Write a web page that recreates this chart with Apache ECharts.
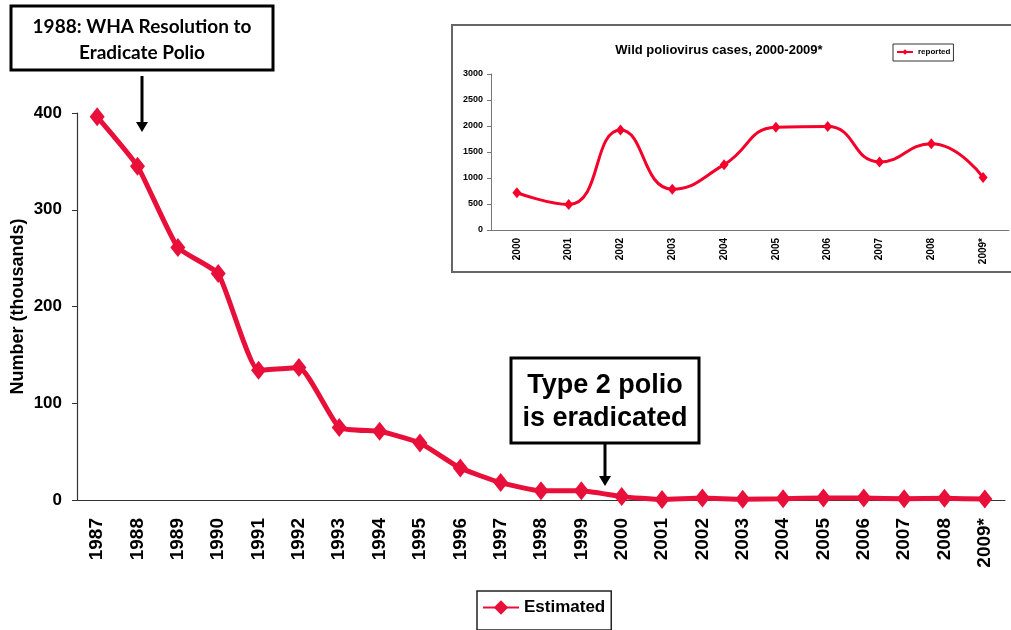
<!DOCTYPE html>
<html>
<head>
<meta charset="utf-8">
<script src="https://cdn.jsdelivr.net/npm/echarts@6/dist/echarts.min.js"></script>
<style>
  html, body { margin: 0; padding: 0; background: #fff; }
  #chart { width: 1011px; height: 630px; }
</style>
</head>
<body>
<div id="chart"></div>
<script>
// main chart: estimated cases (thousands)
const years = ['1987', '1988', '1989', '1990', '1991', '1992', '1993', '1994', '1995', '1996', '1997',
  '1998', '1999', '2000', '2001', '2002', '2003', '2004', '2005', '2006', '2007', '2008', '2009*'];
const estimated = [396, 345, 261, 234, 134, 137, 75, 71, 59, 33, 18,
  9.5, 9.5, 3.5, 0.5, 2, 0.8, 1.3, 2, 2, 1.3, 1.7, 1];
const mainTicks = [0, 400, 100]; // min, max, interval

// inset: wild poliovirus cases
const insetYears = ['2000', '2001', '2002', '2003', '2004', '2005', '2006', '2007', '2008', '2009*'];
const reported = [716, 490, 1922, 785, 1257, 1975, 1990, 1310, 1660, 1012];
const insetTicks = [0, 3000, 500];

const RED = '#e8103a';
const arial = '"Liberation Sans", Arial, sans-serif';

const chart = echarts.init(document.getElementById('chart'), null, { renderer: 'canvas' });

// arrow helper for the annotation boxes
function arrow(x, y1, y2) {
  return [
    { type: 'line', shape: { x1: x, y1: y1, x2: x, y2: y2 - 8 }, style: { stroke: '#000', lineWidth: 3 } },
    { type: 'polygon', shape: { points: [[x - 6, y2 - 10], [x + 6, y2 - 10], [x, y2]] }, style: { fill: '#000' } }
  ];
}

const option = {
  animation: false,
  grid: [
    { left: 77, right: 6, top: 113, bottom: 130, outerBoundsMode: 'none' },
    { left: 491, right: 2, top: 74, bottom: 400, outerBoundsMode: 'none' }
  ],
  legend: [
    {
      data: ['Estimated'],
      left: 477, top: 591,
      orient: 'horizontal',
      borderColor: '#222', borderWidth: 1.5,
      padding: [8, 6, 14, 5],
      itemWidth: 36, itemHeight: 18, itemGap: 4,
      textStyle: { fontFamily: arial, fontWeight: 'bold', fontSize: 17, color: '#000' }
    },
    {
      data: ['reported'],
      left: 893, top: 44,
      borderColor: '#333', borderWidth: 1,
      padding: [4, 3, 5, 3],
      itemWidth: 16, itemHeight: 7, itemGap: 2,
      textStyle: { fontFamily: arial, fontWeight: 'bold', fontSize: 8, color: '#000' }
    }
  ],
  xAxis: [
    {
      type: 'category', gridIndex: 0, data: years, boundaryGap: true,
      axisLine: { lineStyle: { color: '#333', width: 1.2 } },
      axisTick: { length: 6, lineStyle: { color: '#333' } },
      axisLabel: { rotate: 90, margin: 18, interval: 0, color: '#000',
        fontFamily: arial, fontWeight: 'bold', fontSize: 19 }
    },
    {
      type: 'category', gridIndex: 1, data: insetYears, boundaryGap: true,
      axisLine: { lineStyle: { color: '#777', width: 1 } },
      axisTick: { length: 4, lineStyle: { color: '#777' } },
      axisLabel: { rotate: 90, margin: 8, interval: 0, color: '#000',
        fontFamily: arial, fontWeight: 'bold', fontSize: 10 }
    }
  ],
  yAxis: [
    {
      type: 'value', gridIndex: 0, min: mainTicks[0], max: mainTicks[1], interval: mainTicks[2],
      name: 'Number (thousands)', nameLocation: 'middle', nameGap: 50, nameMoveOverlap: false,
      nameTextStyle: { fontFamily: arial, fontWeight: 'bold', fontSize: 18, color: '#000' },
      splitLine: { show: false },
      axisLine: { show: true, lineStyle: { color: '#333', width: 1.2 } },
      axisTick: { show: true, length: 5, lineStyle: { color: '#333' } },
      axisLabel: { margin: 15, color: '#000', fontFamily: arial, fontWeight: 'bold', fontSize: 17 }
    },
    {
      type: 'value', gridIndex: 1, min: insetTicks[0], max: insetTicks[1], interval: insetTicks[2],
      splitLine: { show: false },
      axisLine: { show: true, lineStyle: { color: '#777', width: 1 } },
      axisTick: { show: true, length: 4, lineStyle: { color: '#777' } },
      axisLabel: { margin: 8, color: '#000', fontFamily: arial, fontWeight: 'bold', fontSize: 9,
        formatter: function (v) { return String(v); } }
    }
  ],
  series: [
    {
      name: 'Estimated', type: 'line', xAxisIndex: 0, yAxisIndex: 0,
      data: estimated, smooth: 0.15,
      symbol: 'diamond', symbolSize: [15, 19],
      lineStyle: { color: RED, width: 5 },
      itemStyle: { color: RED }
    },
    {
      name: 'reported', type: 'line', xAxisIndex: 1, yAxisIndex: 1,
      data: reported, smooth: 0.5,
      symbol: 'diamond', symbolSize: [9, 11],
      lineStyle: { color: '#f5002a', width: 3 },
      itemStyle: { color: '#f5002a' }
    }
  ],
  graphic: [
    // inset frame
    { type: 'rect', shape: { x: 452, y: 25, width: 600, height: 247 },
      style: { fill: 'none', stroke: '#666', lineWidth: 2 }, silent: true },
    { type: 'text', x: 719, y: 50,
      style: { text: 'Wild poliovirus cases, 2000-2009*', align: 'center', verticalAlign: 'middle',
        font: 'bold 13px ' + arial, fill: '#000' } },
    // WHA annotation
    { type: 'rect', shape: { x: 11, y: 6, width: 262, height: 64 },
      style: { fill: '#fff', stroke: '#000', lineWidth: 3 } },
    { type: 'text', x: 142, y: 27,
      style: { text: '1988: WHA Resolution to', align: 'center', verticalAlign: 'middle',
        font: 'bold 19px Lato, "Open Sans", sans-serif', fill: '#000' } },
    { type: 'text', x: 142, y: 53,
      style: { text: 'Eradicate Polio', align: 'center', verticalAlign: 'middle',
        font: 'bold 19px Lato, "Open Sans", sans-serif', fill: '#000' } },
    ...arrow(142, 76, 132),
    // Type 2 annotation
    { type: 'rect', shape: { x: 511, y: 358, width: 188, height: 85 },
      style: { fill: '#fff', stroke: '#000', lineWidth: 3 } },
    { type: 'text', x: 605, y: 386,
      style: { text: 'Type 2 polio', align: 'center', verticalAlign: 'middle',
        font: 'bold 27px ' + arial, fill: '#000' } },
    { type: 'text', x: 605, y: 419,
      style: { text: 'is eradicated', align: 'center', verticalAlign: 'middle',
        font: 'bold 27px ' + arial, fill: '#000' } },
    ...arrow(605, 444, 486)
  ]
};

chart.setOption(option);
</script>
</body>
</html>
